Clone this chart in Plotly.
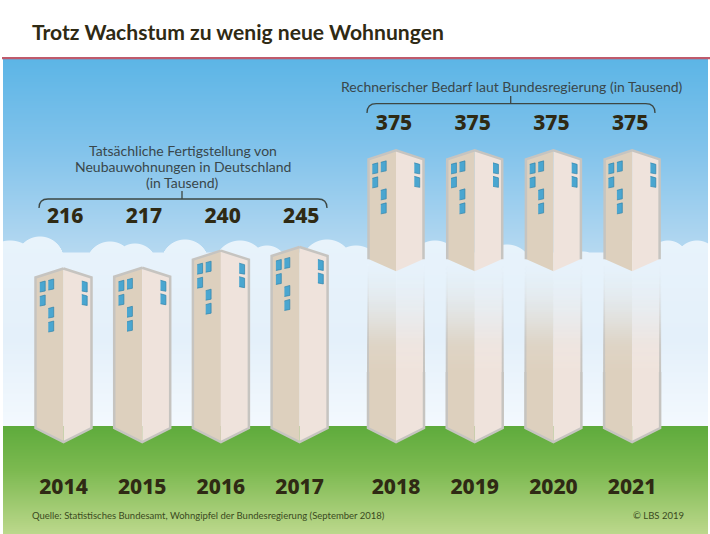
import numpy as np
import plotly.graph_objects as go

# data
built_years = ['2014', '2015', '2016', '2017']
built_values = [216, 217, 240, 245]
needed_years = ['2018', '2019', '2020', '2021']
needed_values = [375, 375, 375, 375]

title = 'Trotz Wachstum zu wenig neue Wohnungen'
built_label = ['Tatsächliche Fertigstellung von', 'Neubauwohnungen in Deutschland', '(in Tausend)']
needed_label = 'Rechnerischer Bedarf laut Bundesregierung (in Tausend)'
source = 'Quelle: Statistisches Bundesamt, Wohngipfel der Bundesregierung (September 2018)'
copyright_text = '© LBS 2019'

W, H = 710, 534
FONT = 'Lato'
NUM_FONT = 'Noto Sans'
DARK = '#2f2a14'
TEXT = '#39474b'

# value axis and position axis, in page pixels
PX_PER_UNIT = 0.743
BASE_PX = 429
STEP_PX = 78.7
FIRST_PX = 63.5
GROUP_GAP = 0.225
TIP_PX = 442


def v_of(px):
    return (BASE_PX - px) / PX_PER_UNIT


def px_of(v):
    return BASE_PX - v * PX_PER_UNIT


def scene_image():
    # sky, clouds and meadow gradient behind the towers
    x0, x1, y0, y1 = 3, 708, 59, 534
    xs = np.arange(x0, x1) + 0.5
    ys = np.arange(y0, y1) + 0.5
    bumps = [(10, 240, 30), (40, 236, 24), (110, 241, 24), (135, 243, 22), (185, 239, 24),
             (240, 240, 26), (267, 245, 20), (327, 239, 26), (356, 245, 26), (435, 240, 26),
             (507, 244, 26), (583, 251, 20), (633, 240, 26), (697, 240, 22), (668, 240, 20)]
    top = np.full(xs.shape, 252.0)
    for cx, cy, r in bumps:
        d = np.clip(r ** 2 - (xs - cx) ** 2, 0, None)
        arc = np.where(np.abs(xs - cx) < r, cy + r - np.sqrt(d), 999)
        top = np.minimum(top, arc)

    def ramp(y, stops):
        py = [s[0] for s in stops]
        return np.stack([np.interp(y, py, [s[1][c] for s in stops]) for c in range(3)], axis=-1)

    sky = ramp(ys, [(59, (92, 181, 230)), (150, (130, 195, 235)), (260, (185, 218, 241))])
    cloud = ramp(ys, [(236, (232, 243, 251)), (340, (228, 240, 250)), (426, (243, 249, 254))])
    ground = ramp(ys, [(426, (94, 171, 60)), (470, (124, 185, 80)), (534, (188, 216, 140))])

    img = np.zeros((len(ys), len(xs), 3))
    for j, y in enumerate(ys):
        a = np.clip(y - top, 0, 1)[:, None]
        img[j] = sky[j] * (1 - a) + cloud[j] * a
        if y >= 426:
            img[j] = ground[j]
    return go.Image(z=img.round().astype(np.uint8), x0=x0 + 0.5, y0=y0 + 0.5, dx=1, dy=1,
                    xaxis='x', yaxis='y', hoverinfo='skip')


def add_poly(store, pts):
    for c, px, py in pts:
        store[0].append(c + px / STEP_PX)
        store[1].append(v_of(py))
    store[0].append(None)
    store[1].append(None)


def tower_faces(left, right, c, top_center, top_side, bot_side, tip, half=28):
    add_poly(left, [(c, 0, top_center), (c, -half, top_side), (c, -half, bot_side), (c, 0, tip)])
    add_poly(right, [(c, 0, top_center), (c, half, top_side), (c, half, bot_side), (c, 0, tip)])


def add_windows(store, c, top_px):
    # window offsets from the tower's centre and its roof
    for dx, dy in [(-21, 18), (-12.5, 16), (-21, 32), (-12.5, 44), (-12.5, 58)]:
        add_poly(store, [(c, dx - 2.7, top_px + dy - 4), (c, dx + 2.7, top_px + dy - 5.5),
                         (c, dx + 2.7, top_px + dy + 4.5), (c, dx - 2.7, top_px + dy + 5.5)])
    for dx, dy in [(21, 18), (21, 31.5)]:
        add_poly(store, [(c, dx - 2.7, top_px + dy - 5.5), (c, dx + 2.7, top_px + dy - 4),
                         (c, dx + 2.7, top_px + dy + 5.5), (c, dx - 2.7, top_px + dy + 4.5)])


def fade_heat(x_a, x_b, rows, alpha, rgb):
    return go.Heatmap(x=[x_a, x_b], y=[v_of(p) for p in rows], z=[[a] for a in alpha],
                      zmin=0, zmax=1, showscale=False, hoverinfo='skip',
                      colorscale=[[0, 'rgba(%d,%d,%d,0)' % rgb], [1, 'rgba(%d,%d,%d,1)' % rgb]],
                      xaxis='x2', yaxis='y2')


years = built_years + needed_years
values = built_values + needed_values
n_built = len(built_years)
pos = [i + (GROUP_GAP if i >= n_built else 0) for i in range(len(years))]

left, right, outline, windows = ([], []), ([], []), ([], []), ([], [])
traces = [scene_image()]

LEFT_RGB = (221, 208, 190)
RIGHT_RGB = (239, 227, 220)
EDGE_RGB = (198, 196, 192)
FADE_TOP, FADE_END = 262, 372
fade_px = [FADE_TOP, 272, 293, 310, 327, 345, FADE_END]
fade_a = [0, 0.02, 0.15, 0.35, 0.6, 0.88, 1]
rows = np.arange(FADE_TOP, FADE_END + 2, 2.0)
alpha = np.interp((rows[:-1] + rows[1:]) / 2, fade_px, fade_a)

for i, (c, v) in enumerate(zip(pos, values)):
    top = px_of(v)
    if i < n_built:
        tower_faces(left, right, c, top, top + 9, 428, TIP_PX)
        add_poly(outline, [(c, 0, top), (c, 28, top + 9), (c, 28, 428), (c, 0, TIP_PX),
                           (c, -28, 428), (c, -28, top + 9), (c, 0, top)])
    else:
        # projected towers float: solid head, solid foot, faded middle
        tower_faces(left, right, c, top, top + 9, top + 109, top + 121, half=27)
        add_poly(outline, [(c, -27.5, top + 109), (c, -27.5, top + 9), (c, 0, top),
                           (c, 27.5, top + 9), (c, 27.5, top + 109)])
        add_poly(left, [(c, 0, FADE_END), (c, -28, FADE_END), (c, -28, 428), (c, 0, TIP_PX)])
        add_poly(right, [(c, 0, FADE_END), (c, 28, FADE_END), (c, 28, 428), (c, 0, TIP_PX)])
        add_poly(outline, [(c, -28, FADE_END), (c, -28, 428), (c, 0, TIP_PX), (c, 28, 428),
                           (c, 28, FADE_END)])
        u = 1 / STEP_PX
        traces.append(fade_heat(c - 28 * u, c, rows, alpha, LEFT_RGB))
        traces.append(fade_heat(c, c + 28 * u, rows, alpha, RIGHT_RGB))
        traces.append(fade_heat(c - 29 * u, c - 27 * u, rows, alpha, EDGE_RGB))
        traces.append(fade_heat(c + 27 * u, c + 29 * u, rows, alpha, EDGE_RGB))
    add_windows(windows, c, top)

for store, rgb in ((left, LEFT_RGB), (right, RIGHT_RGB)):
    traces.append(go.Scatter(x=store[0], y=store[1], mode='lines', fill='toself',
                             fillcolor='rgb(%d,%d,%d)' % rgb, line=dict(width=0),
                             hoverinfo='skip', xaxis='x2', yaxis='y2'))
traces.append(go.Scatter(x=outline[0], y=outline[1], mode='lines',
                         line=dict(color='rgb(%d,%d,%d)' % EDGE_RGB, width=2.5),
                         hoverinfo='skip', xaxis='x2', yaxis='y2'))
traces.append(go.Scatter(x=windows[0], y=windows[1], mode='lines', fill='toself',
                         fillcolor='#4aa6d0', line=dict(color='#3184ab', width=0.7),
                         hoverinfo='skip', xaxis='x2', yaxis='y2'))

# value labels sit in a row per group, not on the towers
for idx, vals, row_px, shift in ((pos[:n_built], built_values, 218, 1.7),
                                 (pos[n_built:], needed_values, 125, -2)):
    traces.append(go.Scatter(x=[c + shift / STEP_PX for c in idx], y=[v_of(row_px)] * len(vals),
                             mode='text', text=[str(v) for v in vals], textposition='middle center',
                             textfont=dict(family=NUM_FONT, size=21, color=DARK, weight=800),
                             hoverinfo='skip', xaxis='x2', yaxis='y2'))

fig = go.Figure(data=traces)


def brace(x_a, x_b, x_mid, y_line, y_end, y_tick):
    r = y_end - y_line
    return dict(type='path', xref='x', yref='y', layer='above',
                line=dict(color='#3d4743', width=1.3),
                path=f'M{x_a},{y_end} Q{x_a},{y_line} {x_a + r},{y_line} L{x_b - r},{y_line} '
                     f'Q{x_b},{y_line} {x_b},{y_end} M{x_mid},{y_line} L{x_mid},{y_tick}')


shapes = [
    dict(type='rect', xref='x', yref='y', x0=2, x1=W, y0=57, y1=59.3, layer='above',
         fillcolor='#bf5a6c', line=dict(width=0)),
    brace(39, 327, 182, 199, 208, 191),
    brace(367, 655, 510.7, 103.7, 113, 96),
]


def label(x, y, text, size, anchor='center', color=TEXT, weight=400, yanchor='middle'):
    return dict(xref='x', yref='y', x=x, y=y, text=text, showarrow=False, xanchor=anchor,
                yanchor=yanchor, font=dict(family=FONT, size=size, color=color, weight=weight))


annotations = [
    label(30, 31, title, 21.1, anchor='left', color=DARK, weight=700),
    label(182.5, 150, built_label[0], 14),
    label(182.5, 166, built_label[1], 14),
    label(182.5, 182, built_label[2], 14),
    label(511.5, 86, needed_label, 14),
    label(30, 515, source, 9.5, anchor='left', color='#3a4a20'),
    label(686, 515, copyright_text, 9.5, anchor='right', color='#3a4a20'),
]

fig.update_layout(
    width=W, height=H, margin=dict(l=0, r=0, t=0, b=0), showlegend=False,
    paper_bgcolor='white', plot_bgcolor='white',
    shapes=shapes, annotations=annotations,
    xaxis=dict(range=[0, W], visible=False, fixedrange=True),
    yaxis=dict(range=[H, 0], visible=False, fixedrange=True),
    xaxis2=dict(overlaying='x', anchor='free', position=(H - 462) / H,
                range=[-FIRST_PX / STEP_PX, (W - FIRST_PX) / STEP_PX],
                tickmode='array', tickvals=pos, ticktext=years, ticks='outside', ticklen=6,
                tickcolor='rgba(0,0,0,0)', showgrid=False, zeroline=False, showline=False,
                tickangle=0, fixedrange=True,
                tickfont=dict(family=NUM_FONT, size=21, color=DARK, weight=800)),
    yaxis2=dict(overlaying='y', anchor='x2', range=[v_of(H), v_of(0)], visible=False,
                fixedrange=True),
)

# the page's default body margin would push the figure 8px off
fig.write_html("out.html", config=dict(displayModeBar=False),
               post_script="document.body.style.margin='0';")
